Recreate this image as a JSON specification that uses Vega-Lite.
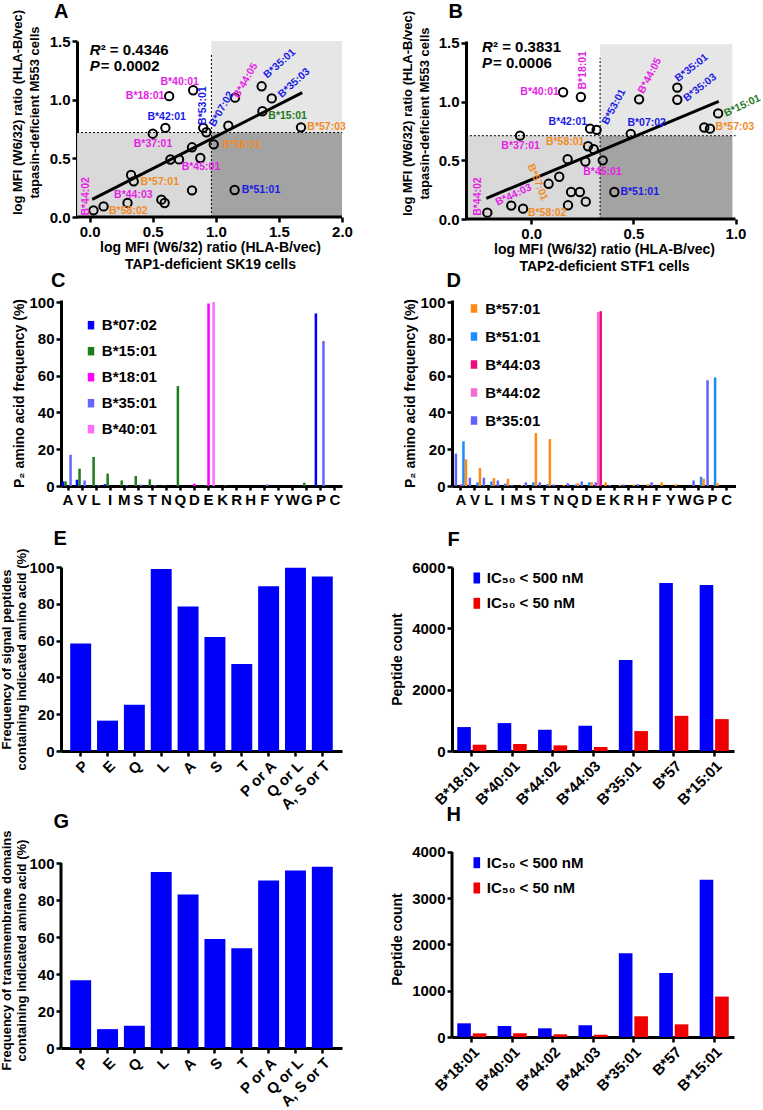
{
  "$schema": "https://vega.github.io/schema/vega-lite/v6.json",
  "background": "white",
  "padding": {"left": 0, "top": 2, "right": 5, "bottom": 5},
  "config": {
    "font": "Liberation Sans",
    "view": {"stroke": null},
    "axis": {"domainColor": "#000", "domainWidth": 3, "tickColor": "#000", "tickWidth": 2.5, "tickSize": 5, "labelFontSize": 15, "labelFontWeight": "bold", "labelColor": "#000", "labelPadding": 2, "labelFlush": false, "labelOverlap": false, "titleFontSize": 14, "titleFontWeight": "bold", "titleColor": "#000", "grid": false},
    "title": {"fontSize": 20, "fontWeight": "bold", "anchor": "start", "frame": "group", "color": "#000"},
    "legend": {"labelFontSize": 15, "labelFontWeight": "bold", "labelColor": "#000", "padding": 0, "symbolStrokeWidth": 0, "symbolOpacity": 1}
  },
  "datasets": {
    "zonesA": [
      {"x1": -0.1, "x2": 0.965, "y1": 0, "y2": 0.72, "zone": "lowlight"},
      {"x1": 0.965, "x2": 2.0, "y1": 0, "y2": 0.72, "zone": "dark"},
      {"x1": 0.965, "x2": 2.0, "y1": 0.72, "y2": 1.5, "zone": "toplight"}
    ],
    "dotsA": [
      {"x1": 0.965, "x2": 0.965, "y1": 0, "y2": 1.39},
      {"x1": -0.1, "x2": 2.0, "y1": 0.72, "y2": 0.72}
    ],
    "axA": [{"x1": -0.1, "x2": 2.0, "y": 0}],
    "fitA": [{"x1": 0.02, "y1": 0.15, "x2": 1.685, "y2": 1.06}],
    "statA": [{"x": 0.0, "y": 1.42, "k": "R", "v": "² = 0.4346"}, {"x": 0.0, "y": 1.284, "k": "P", "v": " = 0.0002"}],
    "ptsA": [
      {"x": 0.03, "y": 0.057}, {"x": 0.11, "y": 0.09}, {"x": 0.30, "y": 0.12}, {"x": 0.328, "y": 0.358}, {"x": 0.349, "y": 0.304},
      {"x": 0.50, "y": 0.71}, {"x": 0.568, "y": 0.148}, {"x": 0.594, "y": 0.119}, {"x": 0.60, "y": 0.76}, {"x": 0.63, "y": 1.03},
      {"x": 0.64, "y": 0.49}, {"x": 0.708, "y": 0.491}, {"x": 0.811, "y": 0.227}, {"x": 0.811, "y": 0.594}, {"x": 0.82, "y": 1.08},
      {"x": 0.877, "y": 0.503}, {"x": 0.90, "y": 0.76}, {"x": 0.925, "y": 0.722}, {"x": 0.983, "y": 0.619}, {"x": 1.099, "y": 0.778},
      {"x": 1.152, "y": 1.017}, {"x": 1.149, "y": 0.23}, {"x": 1.363, "y": 1.114}, {"x": 1.369, "y": 0.901}, {"x": 1.443, "y": 1.011},
      {"x": 1.675, "y": 0.764}
    ],
    "labA": [
      {"lab": "B*40:01", "x": 0.713, "y": 1.153, "grp": "m"},
      {"lab": "B*18:01", "x": 0.439, "y": 1.031, "grp": "m"},
      {"lab": "B*42:01", "x": 0.610, "y": 0.852, "grp": "b"},
      {"lab": "B*37:01", "x": 0.502, "y": 0.619, "grp": "m"},
      {"lab": "B*45:01", "x": 0.882, "y": 0.426, "grp": "m"},
      {"lab": "B*57:01", "x": 0.555, "y": 0.298, "grp": "o"},
      {"lab": "B*44:03", "x": 0.346, "y": 0.190, "grp": "m"},
      {"lab": "B*58:02", "x": 0.306, "y": 0.051, "grp": "o"},
      {"lab": "B*15:01", "x": 1.569, "y": 0.861, "grp": "g"},
      {"lab": "B*57:03", "x": 1.878, "y": 0.764, "grp": "o"},
      {"lab": "B*58:01", "x": 1.205, "y": 0.611, "grp": "o"},
      {"lab": "B*51:01", "x": 1.358, "y": 0.227, "grp": "b"},
      {"lab": "B*44:02", "x": -0.032, "y": 0.176, "grp": "m"},
      {"lab": "B*53:01", "x": 0.896, "y": 0.949, "grp": "b"},
      {"lab": "B*07:02", "x": 1.046, "y": 0.920, "grp": "b"},
      {"lab": "B*44:05", "x": 1.236, "y": 1.162, "grp": "m"},
      {"lab": "B*35:01", "x": 1.506, "y": 1.307, "grp": "b"},
      {"lab": "B*35:03", "x": 1.620, "y": 1.142, "grp": "b"}
    ],
    "zonesB": [
      {"x1": -0.31, "x2": 0.337, "y1": 0, "y2": 0.71, "zone": "lowlight"},
      {"x1": 0.337, "x2": 0.985, "y1": 0, "y2": 0.71, "zone": "dark"},
      {"x1": 0.337, "x2": 0.985, "y1": 0.71, "y2": 1.49, "zone": "toplight"}
    ],
    "dotsB": [
      {"x1": 0.337, "x2": 0.337, "y1": 0, "y2": 1.372},
      {"x1": -0.32, "x2": 1.0, "y1": 0.71, "y2": 0.71}
    ],
    "axB": [{"x1": -0.32, "x2": 1.0, "y": 0}],
    "fitB": [{"x1": -0.22, "y1": 0.176, "x2": 0.918, "y2": 1.002}],
    "statB": [{"x": -0.241, "y": 1.466, "k": "R", "v": "² = 0.3831"}, {"x": -0.241, "y": 1.329, "k": "P", "v": " = 0.0006"}],
    "ptsB": [
      {"x": -0.215, "y": 0.054}, {"x": -0.098, "y": 0.114}, {"x": -0.04, "y": 0.088}, {"x": -0.055, "y": 0.71}, {"x": 0.085, "y": 0.30},
      {"x": 0.137, "y": 0.36}, {"x": 0.156, "y": 1.08}, {"x": 0.178, "y": 0.51}, {"x": 0.18, "y": 0.117}, {"x": 0.195, "y": 0.23},
      {"x": 0.238, "y": 0.23}, {"x": 0.243, "y": 1.04}, {"x": 0.267, "y": 0.148}, {"x": 0.265, "y": 0.49}, {"x": 0.278, "y": 0.62},
      {"x": 0.288, "y": 0.77}, {"x": 0.306, "y": 0.595}, {"x": 0.32, "y": 0.76}, {"x": 0.35, "y": 0.50}, {"x": 0.407, "y": 0.23},
      {"x": 0.487, "y": 0.726}, {"x": 0.528, "y": 1.02}, {"x": 0.715, "y": 1.12}, {"x": 0.715, "y": 1.016}, {"x": 0.847, "y": 0.78},
      {"x": 0.875, "y": 0.77}, {"x": 0.915, "y": 0.90}
    ],
    "labB": [
      {"lab": "B*40:01", "x": 0.041, "y": 1.082, "grp": "m"},
      {"lab": "B*57:03", "x": 0.997, "y": 0.780, "grp": "o"},
      {"lab": "B*07:02", "x": 0.565, "y": 0.817, "grp": "b"},
      {"lab": "B*42:01", "x": 0.179, "y": 0.823, "grp": "b"},
      {"lab": "B*37:01", "x": -0.052, "y": 0.626, "grp": "m"},
      {"lab": "B*58:01", "x": 0.166, "y": 0.660, "grp": "o"},
      {"lab": "B*45:01", "x": 0.349, "y": 0.404, "grp": "m"},
      {"lab": "B*58:02", "x": 0.078, "y": 0.054, "grp": "o"},
      {"lab": "B*51:01", "x": 0.531, "y": 0.228, "grp": "b"},
      {"lab": "B*18:01", "x": 0.254, "y": 1.267, "grp": "m"},
      {"lab": "B*44:02", "x": -0.261, "y": 0.191, "grp": "m"},
      {"lab": "B*44:05", "x": 0.581, "y": 1.221, "grp": "m"},
      {"lab": "B*53:01", "x": 0.405, "y": 0.956, "grp": "b"},
      {"lab": "B*35:01", "x": 0.785, "y": 1.287, "grp": "b"},
      {"lab": "B*35:03", "x": 0.826, "y": 1.119, "grp": "b"},
      {"lab": "B*15:01", "x": 1.033, "y": 0.965, "grp": "g"},
      {"lab": "B*44:03", "x": -0.086, "y": 0.205, "grp": "m"},
      {"lab": "B*57:01", "x": 0.031, "y": 0.313, "grp": "o"}
    ],
    "p2C": [
      {"aa": "A", "al": "B*07:02", "f": 2.5}, {"aa": "A", "al": "B*15:01", "f": 2.5}, {"aa": "A", "al": "B*35:01", "f": 17},
      {"aa": "V", "al": "B*07:02", "f": 3.4}, {"aa": "V", "al": "B*15:01", "f": 9.4}, {"aa": "V", "al": "B*35:01", "f": 3},
      {"aa": "L", "al": "B*15:01", "f": 15.8}, {"aa": "L", "al": "B*35:01", "f": 0.4},
      {"aa": "I", "al": "B*07:02", "f": 1}, {"aa": "I", "al": "B*15:01", "f": 6.7},
      {"aa": "M", "al": "B*15:01", "f": 3}, {"aa": "M", "al": "B*35:01", "f": 0.4},
      {"aa": "S", "al": "B*15:01", "f": 5.4}, {"aa": "S", "al": "B*35:01", "f": 0.8},
      {"aa": "T", "al": "B*15:01", "f": 3.6}, {"aa": "T", "al": "B*35:01", "f": 0.5},
      {"aa": "N", "al": "B*15:01", "f": 0.3},
      {"aa": "Q", "al": "B*15:01", "f": 54.3},
      {"aa": "D", "al": "B*18:01", "f": 1.3},
      {"aa": "E", "al": "B*15:01", "f": 0.4}, {"aa": "E", "al": "B*18:01", "f": 99.2}, {"aa": "E", "al": "B*40:01", "f": 100},
      {"aa": "K", "al": "B*35:01", "f": 0.3},
      {"aa": "F", "al": "B*35:01", "f": 0.9},
      {"aa": "G", "al": "B*15:01", "f": 1.8},
      {"aa": "P", "al": "B*07:02", "f": 93.8}, {"aa": "P", "al": "B*35:01", "f": 78.8}
    ],
    "p2D": [
      {"aa": "A", "al": "B*35:01", "f": 17.6}, {"aa": "A", "al": "B*44:03", "f": 0.8}, {"aa": "A", "al": "B*51:01", "f": 24.3}, {"aa": "A", "al": "B*57:01", "f": 14.5},
      {"aa": "V", "al": "B*35:01", "f": 4.5}, {"aa": "V", "al": "B*51:01", "f": 2}, {"aa": "V", "al": "B*57:01", "f": 9.8},
      {"aa": "L", "al": "B*35:01", "f": 4.5}, {"aa": "L", "al": "B*51:01", "f": 2.5}, {"aa": "L", "al": "B*57:01", "f": 4.3},
      {"aa": "I", "al": "B*35:01", "f": 3}, {"aa": "I", "al": "B*51:01", "f": 1.3}, {"aa": "I", "al": "B*57:01", "f": 4},
      {"aa": "M", "al": "B*35:01", "f": 0.6}, {"aa": "M", "al": "B*57:01", "f": 0.5},
      {"aa": "S", "al": "B*35:01", "f": 2}, {"aa": "S", "al": "B*51:01", "f": 2}, {"aa": "S", "al": "B*57:01", "f": 28.8},
      {"aa": "T", "al": "B*35:01", "f": 2}, {"aa": "T", "al": "B*51:01", "f": 1}, {"aa": "T", "al": "B*57:01", "f": 25.5},
      {"aa": "N", "al": "B*35:01", "f": 0.8}, {"aa": "N", "al": "B*57:01", "f": 0.5},
      {"aa": "Q", "al": "B*35:01", "f": 1.5}, {"aa": "Q", "al": "B*51:01", "f": 0.8}, {"aa": "Q", "al": "B*57:01", "f": 1.5},
      {"aa": "D", "al": "B*35:01", "f": 2.5}, {"aa": "D", "al": "B*51:01", "f": 2}, {"aa": "D", "al": "B*57:01", "f": 2},
      {"aa": "E", "al": "B*35:01", "f": 2}, {"aa": "E", "al": "B*44:02", "f": 94.5}, {"aa": "E", "al": "B*44:03", "f": 95}, {"aa": "E", "al": "B*57:01", "f": 2},
      {"aa": "K", "al": "B*35:01", "f": 0.6}, {"aa": "K", "al": "B*57:01", "f": 0.6},
      {"aa": "R", "al": "B*35:01", "f": 0.8}, {"aa": "R", "al": "B*57:01", "f": 0.8},
      {"aa": "H", "al": "B*35:01", "f": 1}, {"aa": "H", "al": "B*57:01", "f": 1},
      {"aa": "F", "al": "B*35:01", "f": 2}, {"aa": "F", "al": "B*57:01", "f": 2},
      {"aa": "Y", "al": "B*57:01", "f": 1},
      {"aa": "G", "al": "B*35:01", "f": 3}, {"aa": "G", "al": "B*51:01", "f": 5}, {"aa": "G", "al": "B*57:01", "f": 4},
      {"aa": "P", "al": "B*35:01", "f": 57.5}, {"aa": "P", "al": "B*51:01", "f": 59}, {"aa": "P", "al": "B*57:01", "f": 1.5}
    ],
    "sigE": [
      {"aa": "P", "pct": 58.4}, {"aa": "E", "pct": 16.5}, {"aa": "Q", "pct": 25.2}, {"aa": "L", "pct": 98.9}, {"aa": "A", "pct": 78.6},
      {"aa": "S", "pct": 62}, {"aa": "T", "pct": 47.3}, {"aa": "P or A", "pct": 89.5}, {"aa": "Q or L", "pct": 99.6}, {"aa": "A, S or T", "pct": 94.9}
    ],
    "tmG": [
      {"aa": "P", "pct": 36.6}, {"aa": "E", "pct": 10.2}, {"aa": "Q", "pct": 12}, {"aa": "L", "pct": 95.2}, {"aa": "A", "pct": 83},
      {"aa": "S", "pct": 58.9}, {"aa": "T", "pct": 53.9}, {"aa": "P or A", "pct": 90.5}, {"aa": "Q or L", "pct": 95.9}, {"aa": "A, S or T", "pct": 98}
    ],
    "pepF": [
      {"al": "B*18:01", "ic": "IC₅₀ < 500 nM", "n": 780}, {"al": "B*18:01", "ic": "IC₅₀ < 50 nM", "n": 206},
      {"al": "B*40:01", "ic": "IC₅₀ < 500 nM", "n": 910}, {"al": "B*40:01", "ic": "IC₅₀ < 50 nM", "n": 227},
      {"al": "B*44:02", "ic": "IC₅₀ < 500 nM", "n": 693}, {"al": "B*44:02", "ic": "IC₅₀ < 50 nM", "n": 184},
      {"al": "B*44:03", "ic": "IC₅₀ < 500 nM", "n": 823}, {"al": "B*44:03", "ic": "IC₅₀ < 50 nM", "n": 130},
      {"al": "B*35:01", "ic": "IC₅₀ < 500 nM", "n": 2968}, {"al": "B*35:01", "ic": "IC₅₀ < 50 nM", "n": 650},
      {"al": "B*57", "ic": "IC₅₀ < 500 nM", "n": 5480}, {"al": "B*57", "ic": "IC₅₀ < 50 nM", "n": 1148},
      {"al": "B*15:01", "ic": "IC₅₀ < 500 nM", "n": 5415}, {"al": "B*15:01", "ic": "IC₅₀ < 50 nM", "n": 1040}
    ],
    "pepH": [
      {"al": "B*18:01", "ic": "IC₅₀ < 500 nM", "n": 296}, {"al": "B*18:01", "ic": "IC₅₀ < 50 nM", "n": 79},
      {"al": "B*40:01", "ic": "IC₅₀ < 500 nM", "n": 238}, {"al": "B*40:01", "ic": "IC₅₀ < 50 nM", "n": 79},
      {"al": "B*44:02", "ic": "IC₅₀ < 500 nM", "n": 188}, {"al": "B*44:02", "ic": "IC₅₀ < 50 nM", "n": 58},
      {"al": "B*44:03", "ic": "IC₅₀ < 500 nM", "n": 253}, {"al": "B*44:03", "ic": "IC₅₀ < 50 nM", "n": 50},
      {"al": "B*35:01", "ic": "IC₅₀ < 500 nM", "n": 1812}, {"al": "B*35:01", "ic": "IC₅₀ < 50 nM", "n": 448},
      {"al": "B*57", "ic": "IC₅₀ < 500 nM", "n": 1386}, {"al": "B*57", "ic": "IC₅₀ < 50 nM", "n": 274},
      {"al": "B*15:01", "ic": "IC₅₀ < 500 nM", "n": 3400}, {"al": "B*15:01", "ic": "IC₅₀ < 50 nM", "n": 874}
    ]
  },
  "columns": 2,
  "spacing": {"row": 81, "column": 110},
  "bounds": "flush",
  "align": {"row": "each", "column": "none"},
  "resolve": {"scale": {"color": "independent", "fill": "independent", "xOffset": "independent"}, "legend": {"color": "independent", "fill": "independent"}},
  "concat": [
    {
      "width": 281, "height": 176,
      "title": {"text": "A", "dx": -7, "offset": -13},
      "layer": [
        {"data": {"name": "zonesA"}, "mark": {"type": "rect"},
         "encoding": {
           "x": {"field": "x1", "type": "quantitative", "scale": {"domain": [-0.2275, 2.0], "nice": false, "zero": false},
                 "axis": {"title": ["log MFI (W6/32) ratio (HLA-B/vec)", "TAP1-deficient SK19 cells"], "values": [0, 0.5, 1, 1.5, 2], "format": ".1f", "domain": false, "titleX": 149, "titlePadding": 1, "titleLineHeight": 17}},
           "x2": {"field": "x2"},
           "y": {"field": "y1", "type": "quantitative", "scale": {"domain": [0, 1.5], "nice": false, "zero": false},
                 "axis": {"title": ["log MFI (W6/32) ratio (HLA-B/vec)", "tapasin-deficient M553 cells"], "values": [0, 0.5, 1, 1.5], "format": ".1f", "offset": -16, "titleY": 71, "titlePadding": 8, "titleLineHeight": 17, "titleFontSize": 13}},
           "y2": {"field": "y2"},
           "fill": {"field": "zone", "type": "nominal", "scale": {"domain": ["lowlight", "dark", "toplight"], "range": ["#d9d9d9", "#a3a3a3", "#e6e6e6"]}, "legend": null}
         }},
        {"data": {"name": "dotsA"}, "mark": {"type": "rule", "strokeDash": [2, 2], "strokeWidth": 1, "color": "#000"},
         "encoding": {"x": {"field": "x1", "type": "quantitative"}, "x2": {"field": "x2"}, "y": {"field": "y1", "type": "quantitative"}, "y2": {"field": "y2"}}},
        {"data": {"name": "axA"}, "mark": {"type": "rule", "strokeWidth": 3, "color": "#000"},
         "encoding": {"x": {"field": "x1", "type": "quantitative"}, "x2": {"field": "x2"}, "y": {"field": "y", "type": "quantitative"}}},
        {"data": {"name": "fitA"}, "mark": {"type": "rule", "strokeWidth": 3, "color": "#000"},
         "encoding": {"x": {"field": "x1", "type": "quantitative"}, "x2": {"field": "x2"}, "y": {"field": "y1", "type": "quantitative"}, "y2": {"field": "y2"}}},
        {"data": {"name": "ptsA"}, "mark": {"type": "point", "shape": "circle", "filled": false, "color": "#000", "strokeWidth": 2, "size": 70, "opacity": 1},
         "encoding": {"x": {"field": "x", "type": "quantitative"}, "y": {"field": "y", "type": "quantitative"}}},
        {"data": {"name": "labA"}, "transform": [{"filter": {"not": {"field": "lab", "oneOf": ["B*44:02", "B*53:01", "B*07:02", "B*44:05", "B*35:01", "B*35:03"]}}}],
         "mark": {"type": "text", "fontSize": 10.5, "fontWeight": "bold", "align": "center", "baseline": "middle", "angle": 0},
         "encoding": {"x": {"field": "x", "type": "quantitative"}, "y": {"field": "y", "type": "quantitative"}, "text": {"field": "lab"},
           "color": {"field": "grp", "type": "nominal", "scale": {"domain": ["m", "b", "g", "o"], "range": ["#e61ee6", "#1a1ae6", "#1e7b1e", "#f08c28"]}, "legend": null}}},
        {"data": {"name": "labA"}, "transform": [{"filter": {"field": "lab", "oneOf": ["B*44:02", "B*53:01"]}}],
         "mark": {"type": "text", "fontSize": 10.5, "fontWeight": "bold", "align": "center", "baseline": "middle", "angle": 270},
         "encoding": {"x": {"field": "x", "type": "quantitative"}, "y": {"field": "y", "type": "quantitative"}, "text": {"field": "lab"},
           "color": {"field": "grp", "type": "nominal", "legend": null}}},
        {"data": {"name": "labA"}, "transform": [{"filter": {"field": "lab", "oneOf": ["B*07:02", "B*44:05"]}}],
         "mark": {"type": "text", "fontSize": 10.5, "fontWeight": "bold", "align": "center", "baseline": "middle", "angle": 300},
         "encoding": {"x": {"field": "x", "type": "quantitative"}, "y": {"field": "y", "type": "quantitative"}, "text": {"field": "lab"},
           "color": {"field": "grp", "type": "nominal", "legend": null}}},
        {"data": {"name": "labA"}, "transform": [{"filter": {"field": "lab", "oneOf": ["B*35:01", "B*35:03"]}}],
         "mark": {"type": "text", "fontSize": 10.5, "fontWeight": "bold", "align": "center", "baseline": "middle", "angle": 318},
         "encoding": {"x": {"field": "x", "type": "quantitative"}, "y": {"field": "y", "type": "quantitative"}, "text": {"field": "lab"},
           "color": {"field": "grp", "type": "nominal", "legend": null}}},
        {"data": {"name": "statA"}, "mark": {"type": "text", "fontSize": 15, "fontWeight": "bold", "fontStyle": "italic", "align": "left", "baseline": "middle", "color": "#000"},
         "encoding": {"x": {"field": "x", "type": "quantitative"}, "y": {"field": "y", "type": "quantitative"}, "text": {"field": "k"}}},
        {"data": {"name": "statA"}, "mark": {"type": "text", "fontSize": 15, "fontWeight": "bold", "align": "left", "baseline": "middle", "dx": 11, "color": "#000"},
         "encoding": {"x": {"field": "x", "type": "quantitative"}, "y": {"field": "y", "type": "quantitative"}, "text": {"field": "v"}}}
      ]
    },
    {
      "width": 283.5, "height": 178,
      "title": {"text": "B", "dx": -3.5, "offset": -12},
      "layer": [
        {"data": {"name": "zonesB"}, "mark": {"type": "rect"},
         "encoding": {
           "x": {"field": "x1", "type": "quantitative", "scale": {"domain": [-0.388, 1.0], "nice": false, "zero": false},
                 "axis": {"title": ["log MFI (W6/32) ratio (HLA-B/vec)", "TAP2-deficient STF1 cells"], "values": [0, 0.5, 1], "format": ".1f", "domain": false, "titleX": 152, "titlePadding": 1, "titleLineHeight": 17}},
           "x2": {"field": "x2"},
           "y": {"field": "y1", "type": "quantitative", "scale": {"domain": [0, 1.517], "nice": false, "zero": false},
                 "axis": {"title": ["log MFI (W6/32) ratio (HLA-B/vec)", "tapasin-deficient M553 cells"], "values": [0, 0.5, 1, 1.5], "format": ".1f", "offset": -14, "titleY": 72, "titlePadding": 7, "titleLineHeight": 17, "titleFontSize": 13}},
           "y2": {"field": "y2"},
           "fill": {"field": "zone", "type": "nominal", "scale": {"domain": ["lowlight", "dark", "toplight"], "range": ["#d9d9d9", "#a3a3a3", "#e6e6e6"]}, "legend": null}
         }},
        {"data": {"name": "dotsB"}, "mark": {"type": "rule", "strokeDash": [2, 2], "strokeWidth": 1, "color": "#000"},
         "encoding": {"x": {"field": "x1", "type": "quantitative"}, "x2": {"field": "x2"}, "y": {"field": "y1", "type": "quantitative"}, "y2": {"field": "y2"}}},
        {"data": {"name": "axB"}, "mark": {"type": "rule", "strokeWidth": 3, "color": "#000"},
         "encoding": {"x": {"field": "x1", "type": "quantitative"}, "x2": {"field": "x2"}, "y": {"field": "y", "type": "quantitative"}}},
        {"data": {"name": "fitB"}, "mark": {"type": "rule", "strokeWidth": 3, "color": "#000"},
         "encoding": {"x": {"field": "x1", "type": "quantitative"}, "x2": {"field": "x2"}, "y": {"field": "y1", "type": "quantitative"}, "y2": {"field": "y2"}}},
        {"data": {"name": "ptsB"}, "mark": {"type": "point", "shape": "circle", "filled": false, "color": "#000", "strokeWidth": 2, "size": 70, "opacity": 1},
         "encoding": {"x": {"field": "x", "type": "quantitative"}, "y": {"field": "y", "type": "quantitative"}}},
        {"data": {"name": "labB"}, "transform": [{"filter": {"not": {"field": "lab", "oneOf": ["B*18:01", "B*44:02", "B*44:05", "B*53:01", "B*35:01", "B*35:03", "B*15:01", "B*44:03", "B*57:01"]}}}],
         "mark": {"type": "text", "fontSize": 10.5, "fontWeight": "bold", "align": "center", "baseline": "middle", "angle": 0},
         "encoding": {"x": {"field": "x", "type": "quantitative"}, "y": {"field": "y", "type": "quantitative"}, "text": {"field": "lab"},
           "color": {"field": "grp", "type": "nominal", "scale": {"domain": ["m", "b", "g", "o"], "range": ["#e61ee6", "#1a1ae6", "#1e7b1e", "#f08c28"]}, "legend": null}}},
        {"data": {"name": "labB"}, "transform": [{"filter": {"field": "lab", "oneOf": ["B*18:01", "B*44:02"]}}],
         "mark": {"type": "text", "fontSize": 10.5, "fontWeight": "bold", "align": "center", "baseline": "middle", "angle": 270},
         "encoding": {"x": {"field": "x", "type": "quantitative"}, "y": {"field": "y", "type": "quantitative"}, "text": {"field": "lab"}, "color": {"field": "grp", "type": "nominal", "legend": null}}},
        {"data": {"name": "labB"}, "transform": [{"filter": {"field": "lab", "oneOf": ["B*44:05", "B*53:01"]}}],
         "mark": {"type": "text", "fontSize": 10.5, "fontWeight": "bold", "align": "center", "baseline": "middle", "angle": 298},
         "encoding": {"x": {"field": "x", "type": "quantitative"}, "y": {"field": "y", "type": "quantitative"}, "text": {"field": "lab"}, "color": {"field": "grp", "type": "nominal", "legend": null}}},
        {"data": {"name": "labB"}, "transform": [{"filter": {"field": "lab", "oneOf": ["B*35:01", "B*35:03"]}}],
         "mark": {"type": "text", "fontSize": 10.5, "fontWeight": "bold", "align": "center", "baseline": "middle", "angle": 322},
         "encoding": {"x": {"field": "x", "type": "quantitative"}, "y": {"field": "y", "type": "quantitative"}, "text": {"field": "lab"}, "color": {"field": "grp", "type": "nominal", "legend": null}}},
        {"data": {"name": "labB"}, "transform": [{"filter": {"field": "lab", "oneOf": ["B*15:01", "B*44:03"]}}],
         "mark": {"type": "text", "fontSize": 10.5, "fontWeight": "bold", "align": "center", "baseline": "middle", "angle": 335},
         "encoding": {"x": {"field": "x", "type": "quantitative"}, "y": {"field": "y", "type": "quantitative"}, "text": {"field": "lab"}, "color": {"field": "grp", "type": "nominal", "legend": null}}},
        {"data": {"name": "labB"}, "transform": [{"filter": {"field": "lab", "oneOf": ["B*57:01"]}}],
         "mark": {"type": "text", "fontSize": 10.5, "fontWeight": "bold", "align": "center", "baseline": "middle", "angle": 68},
         "encoding": {"x": {"field": "x", "type": "quantitative"}, "y": {"field": "y", "type": "quantitative"}, "text": {"field": "lab"}, "color": {"field": "grp", "type": "nominal", "legend": null}}},
        {"data": {"name": "statB"}, "mark": {"type": "text", "fontSize": 15, "fontWeight": "bold", "fontStyle": "italic", "align": "left", "baseline": "middle", "color": "#000"},
         "encoding": {"x": {"field": "x", "type": "quantitative"}, "y": {"field": "y", "type": "quantitative"}, "text": {"field": "k"}}},
        {"data": {"name": "statB"}, "mark": {"type": "text", "fontSize": 15, "fontWeight": "bold", "align": "left", "baseline": "middle", "dx": 11, "color": "#000"},
         "encoding": {"x": {"field": "x", "type": "quantitative"}, "y": {"field": "y", "type": "quantitative"}, "text": {"field": "v"}}}
      ]
    },
    {
      "width": 281, "height": 186,
      "title": {"text": "C", "dx": -10, "offset": 4},
      "data": {"name": "p2C"},
      "mark": {"type": "bar"},
      "encoding": {
        "x": {"field": "aa", "type": "nominal", "scale": {"domain": ["A", "V", "L", "I", "M", "S", "T", "N", "Q", "D", "E", "K", "R", "H", "F", "Y", "W", "G", "P", "C"], "paddingInner": 0.1, "paddingOuter": 0.05}, "axis": {"title": null, "labelAngle": 0, "tickSize": 4}},
        "xOffset": {"field": "al", "type": "nominal", "scale": {"domain": ["B*07:02", "B*15:01", "B*18:01", "B*35:01", "B*40:01"]}},
        "y": {"field": "f", "type": "quantitative", "scale": {"domain": [0, 101.087], "nice": false}, "axis": {"title": "P₂ amino acid frequency (%)", "values": [0, 20, 40, 60, 80, 100], "titlePadding": 2}},
        "color": {"field": "al", "type": "nominal", "scale": {"domain": ["B*07:02", "B*15:01", "B*18:01", "B*35:01", "B*40:01"], "range": ["#0000ff", "#1e7b1e", "#ff00ff", "#6666ff", "#ff6eff"]},
          "legend": {"title": null, "orient": "none", "legendX": 21.5, "legendY": 16.7, "symbolType": "M-0.38,-0.5L0.38,-0.5L0.38,0.5L-0.38,0.5Z", "symbolSize": 289, "rowPadding": 9, "labelOffset": 2.3}}
      }
    },
    {
      "width": 283.5, "height": 186,
      "title": {"text": "D", "dx": -5.5, "offset": 4},
      "data": {"name": "p2D"},
      "mark": {"type": "bar"},
      "encoding": {
        "x": {"field": "aa", "type": "nominal", "scale": {"domain": ["A", "V", "L", "I", "M", "S", "T", "N", "Q", "D", "E", "K", "R", "H", "F", "Y", "W", "G", "P", "C"], "paddingInner": 0.1, "paddingOuter": 0.19}, "axis": {"title": null, "labelAngle": 0, "tickSize": 4}},
        "xOffset": {"field": "al", "type": "nominal", "scale": {"domain": ["B*35:01", "B*44:02", "B*44:03", "B*51:01", "B*57:01"]}},
        "y": {"field": "f", "type": "quantitative", "scale": {"domain": [0, 101.087], "nice": false}, "axis": {"title": "P₂ amino acid frequency (%)", "values": [0, 20, 40, 60, 80, 100], "titlePadding": 2}},
        "color": {"field": "al", "type": "nominal", "scale": {"domain": ["B*57:01", "B*51:01", "B*44:03", "B*44:02", "B*35:01"], "range": ["#ff8a14", "#1a8cff", "#ef0a7d", "#f26ad6", "#6262ff"]},
          "legend": {"title": null, "orient": "none", "legendX": 13.5, "legendY": 0, "symbolType": "M-0.38,-0.5L0.38,-0.5L0.38,0.5L-0.38,0.5Z", "symbolSize": 289, "rowPadding": 11, "labelOffset": 2.7}}
      }
    },
    {
      "width": 281, "height": 184,
      "title": {"text": "E", "dx": -7.5, "offset": -1},
      "data": {"name": "sigE"},
      "mark": {"type": "bar", "color": "#0000fa"},
      "encoding": {
        "x": {"field": "aa", "type": "nominal", "sort": null, "scale": {"paddingInner": 0.22, "paddingOuter": 0.343}, "axis": {"title": null, "labelAngle": -45}},
        "y": {"field": "pct", "type": "quantitative", "scale": {"domain": [0, 100], "nice": false}, "axis": {"title": ["Frequency of signal peptides", "containing indicated amino acid (%)"], "values": [0, 20, 40, 60, 80, 100], "titlePadding": 0, "titleLineHeight": 15.5, "titleFontSize": 13}}
      }
    },
    {
      "width": 282, "height": 184,
      "title": {"text": "F", "dx": -4.5, "offset": 10},
      "data": {"name": "pepF"},
      "mark": {"type": "bar"},
      "encoding": {
        "x": {"field": "al", "type": "nominal", "sort": null, "scale": {"paddingInner": 0.28, "paddingOuter": 0.13}, "axis": {"title": null, "labelAngle": -45}},
        "xOffset": {"field": "ic", "type": "nominal", "scale": {"domain": ["IC₅₀ < 500 nM", "IC₅₀ < 50 nM"], "paddingInner": 0.12, "paddingOuter": 0}},
        "y": {"field": "n", "type": "quantitative", "scale": {"domain": [0, 6000], "nice": false}, "axis": {"title": "Peptide count", "values": [0, 2000, 4000, 6000], "format": "d", "titlePadding": 7}},
        "color": {"field": "ic", "type": "nominal", "scale": {"domain": ["IC₅₀ < 500 nM", "IC₅₀ < 50 nM"], "range": ["#0000fa", "#f00000"]},
          "legend": {"title": null, "orient": "none", "legendX": 13.8, "legendY": 0, "symbolType": "M-0.3,-0.5L0.3,-0.5L0.3,0.5L-0.3,0.5Z", "symbolSize": 484, "rowPadding": 6.3, "labelOffset": -1}}
      }
    },
    {
      "width": 281, "height": 216,
      "title": {"text": "G", "dx": -7.5, "offset": -2},
      "resolve": {"scale": {"x": "independent"}},
      "layer": [
        {"data": {"name": "tmG"}, "mark": {"type": "bar", "color": "#0000fa"},
         "encoding": {
           "x": {"field": "aa", "type": "nominal", "sort": null, "scale": {"paddingInner": 0.22, "paddingOuter": 0.343}, "axis": {"title": null, "labelAngle": -45}},
           "y": {"field": "pct", "type": "quantitative", "scale": {"domain": [0, 116.757], "nice": false}, "axis": {"title": ["Frequency of transmembrane domains", "containing indicated amino acid (%)"], "values": [0, 20, 40, 60, 80, 100], "domain": false, "titlePadding": 0, "titleLineHeight": 15.5, "titleFontSize": 13, "titleY": 118}}
         }},
        {"data": {"values": [{"lo": 0, "hi": 100}]}, "mark": {"type": "rule", "strokeWidth": 3, "color": "#000"},
         "encoding": {"x": {"datum": 0, "type": "quantitative", "scale": {"domain": [0, 1]}, "axis": null}, "y": {"field": "lo", "type": "quantitative"}, "y2": {"field": "hi"}}}
      ]
    },
    {
      "width": 282, "height": 205,
      "title": {"text": "H", "dx": -5.5, "offset": 7},
      "resolve": {"scale": {"x": "independent"}},
      "layer": [
        {"data": {"name": "pepH"}, "mark": {"type": "bar"},
         "encoding": {
           "x": {"field": "al", "type": "nominal", "sort": null, "scale": {"paddingInner": 0.28, "paddingOuter": 0.13}, "axis": {"title": null, "labelAngle": -45}},
           "xOffset": {"field": "ic", "type": "nominal", "scale": {"domain": ["IC₅₀ < 500 nM", "IC₅₀ < 50 nM"], "paddingInner": 0.12, "paddingOuter": 0}},
           "y": {"field": "n", "type": "quantitative", "scale": {"domain": [0, 4432.4], "nice": false}, "axis": {"title": "Peptide count", "values": [0, 1000, 2000, 3000, 4000], "format": "d", "domain": false, "titlePadding": 7, "titleY": 107}},
           "color": {"field": "ic", "type": "nominal", "scale": {"domain": ["IC₅₀ < 500 nM", "IC₅₀ < 50 nM"], "range": ["#0000fa", "#f00000"]},
             "legend": {"title": null, "orient": "none", "legendX": 13.8, "legendY": 19.7, "symbolType": "M-0.3,-0.5L0.3,-0.5L0.3,0.5L-0.3,0.5Z", "symbolSize": 484, "rowPadding": 6.3, "labelOffset": -1}}
         }},
        {"data": {"values": [{"lo": 0, "hi": 4000}]}, "mark": {"type": "rule", "strokeWidth": 3, "color": "#000"},
         "encoding": {"x": {"datum": 0, "type": "quantitative", "scale": {"domain": [0, 1]}, "axis": null}, "y": {"field": "lo", "type": "quantitative"}, "y2": {"field": "hi"}}}
      ]
    }
  ]
}
